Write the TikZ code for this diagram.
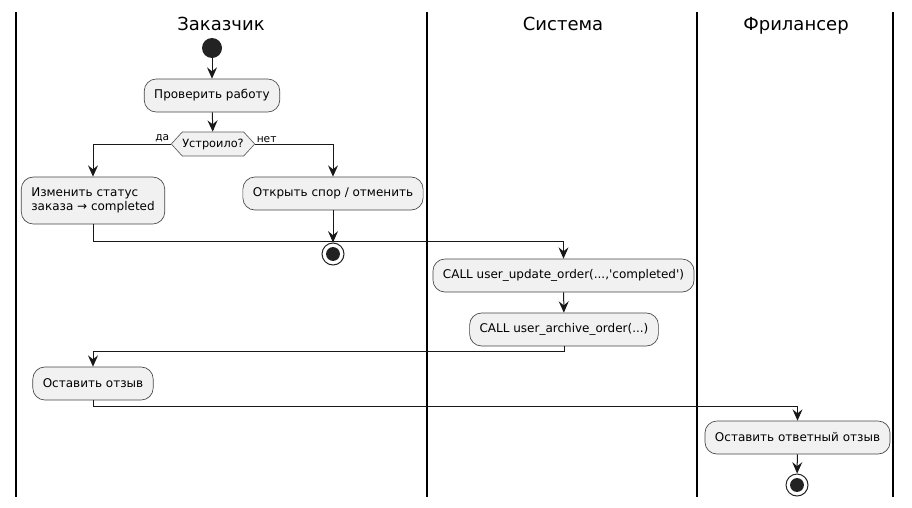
\documentclass[tikz,border=0pt]{standalone}
\usepackage{fontspec}
\setmainfont{DejaVu Sans}
\usetikzlibrary{arrows.meta,shapes.symbols}

\definecolor{actfill}{HTML}{F1F1F1}
\definecolor{actline}{HTML}{181818}
\definecolor{dotfill}{HTML}{222222}

\tikzset{
  action/.style={draw=actline!80, line width=0.5pt, fill=actfill, rounded corners=9pt,
    minimum height=24.75pt, inner xsep=7.5pt, align=left, font=\fontsize{9}{10.5}\selectfont},
  decision/.style={draw=actline!70, line width=0.5pt, fill=actfill, shape=signal,
    signal to=east and west, signal pointer angle=95, minimum height=18pt,
    inner xsep=0pt, inner ysep=1pt, font=\fontsize{8.5}{10}\selectfont},
  startdot/.style={circle, fill=dotfill, minimum size=15pt, inner sep=0pt},
  stopdot/.style={circle, draw=dotfill, line width=0.75pt, fill=white, minimum size=16.5pt,
    inner sep=0pt, path picture={\fill[dotfill] (path picture bounding box.center) circle (5.2pt);}},
  flow/.style={draw=actline, line width=0.75pt, -{Stealth[length=8.5pt,width=7.5pt,inset=3pt]}},
  lane/.style={line width=1.1pt, black},
  lanetitle/.style={font=\fontsize{13.5}{16}\selectfont, anchor=base},
  guard/.style={font=\fontsize{8}{9}\selectfont, inner sep=1pt}
}

\begin{document}
\begin{tikzpicture}[x=0.75pt, y=-0.75pt]
\useasboundingbox (0,0) rectangle (912,507);

% swimlanes
\draw[lane] (16,12) -- (16,497);
\draw[lane] (427,12) -- (427,497);
\draw[lane] (697,12) -- (697,497);
\draw[lane] (893,12) -- (893,497);
\node[lanetitle] (laneCustomer) at (221,30) {Заказчик};
\node[lanetitle] (laneSystem) at (563,30) {Система};
\node[lanetitle] (laneFreelancer) at (796,30) {Фрилансер};

% customer
\node[startdot] (start) at (212,48) {};
\node[action] (check) at (212,95.5) {Проверить работу};
\node[decision] (decide) at (213,144) {Устроило?};
\node[action, minimum height=35.25pt] (change) at (93,200.5) {Изменить статус\\заказа → completed};
\node[action] (dispute) at (333,193.5) {Открыть спор / отменить};
\node[stopdot] (stopA) at (333,254) {};

% system
\node[action] (update) at (563.5,275.5) {CALL user\_update\_order(...,\textquotesingle completed\textquotesingle)};
\node[action] (archive) at (564,329.5) {CALL user\_archive\_order(...)};

% customer again
\node[action] (review) at (93,383.5) {Оставить отзыв};

% freelancer
\node[action] (reply) at (797.5,437.5) {Оставить ответный отзыв};
\node[stopdot] (stopB) at (797,485) {};

% flow
\draw[flow] (start) -- (check);
\draw[flow] (check) -- (decide);
\draw[flow] (decide.west) -| (change.north);
\draw[flow] (decide.east) -| (dispute.north);
\node[guard, anchor=south east] (yes) at (decide.west) {да};
\node[guard, anchor=south west] (no) at (decide.east) {нет};
\draw[flow] (dispute) -- (stopA);
\draw[flow] (change.south) -- ++(0,17) -| (update.north);
\draw[flow] (update) -- (archive);
\draw[flow] (archive.south) -- ++(0,5) -| (review.north);
\draw[flow] (review.south) -- ++(0,6) -| (reply.north);
\draw[flow] (reply) -- (stopB);
\end{tikzpicture}
\end{document}
